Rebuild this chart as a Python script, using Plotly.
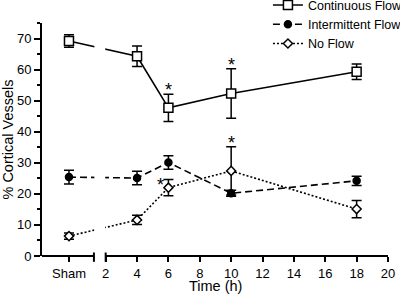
import plotly.graph_objects as go

# ---- data ----
sham_x = -0.34           # position of the "Sham" category on the time axis
times = [4, 6, 10, 18]
cont_flow = [69.2, 64.3, 47.7, 52.3, 59.3]
cont_err = [2.0, 3.3, 4.4, 8.0, 2.5]
inter_flow = [25.4, 25.1, 30.1, 20.2, 24.2]
inter_err = [2.2, 2.2, 2.2, 1.0, 1.5]
no_flow = [6.4, 11.6, 22.0, 27.4, 15.1]
no_err = [1.0, 1.5, 2.6, 7.8, 2.8]
tick_vals = [sham_x, 2, 4, 6, 8, 10, 12, 14, 16, 18, 20]
tick_text = ["Sham", "2", "4", "6", "8", "10", "12", "14", "16", "18", "20"]

x_all = [sham_x] + times
x_min, break_lo, break_hi, x_max = -2.06, 1.25, 2.0, 20.0

fig = go.Figure()

def add(name, y, err, dash, symbol, size, fill):
    fig.add_trace(go.Scatter(
        x=x_all, y=y, name=name, mode="lines+markers",
        line=dict(color="black", width=1.6, dash=dash),
        marker=dict(symbol=symbol, size=size, color=fill,
                    line=dict(color="black", width=1.5)),
        error_y=dict(type="data", array=err, visible=True, color="black",
                     thickness=1.5, width=5),
    ))

add("Continuous Flow", cont_flow, cont_err, "solid", "square", 9, "white")
add("Intermittent Flow", inter_flow, inter_err, "7px,4px", "circle", 7, "black")
add("No Flow", no_flow, no_err, "2px,2px", "diamond", 7, "white")

shapes = []
# white mask hiding the lines across the axis break
shapes.append(dict(type="rect", xref="x", yref="paper", x0=break_lo + 0.03, x1=break_hi - 0.03,
                   y0=0.005, y1=1, fillcolor="white", line=dict(width=0), layer="above"))
# broken x axis line
for a, b in [(x_min, break_lo), (break_hi, x_max)]:
    shapes.append(dict(type="line", xref="x", yref="paper", x0=a, x1=b, y0=0, y1=0,
                       line=dict(color="black", width=2), layer="above"))
for xc in [break_lo, break_hi]:
    shapes.append(dict(type="line", xref="x", yref="paper", x0=xc, x1=xc, y0=-0.025, y1=0.015,
                       line=dict(color="black", width=2), layer="above"))

ann = []
def star(x, y, xs=0, ys=0):
    ann.append(dict(x=x, y=y, xref="x", yref="y", text="*", showarrow=False,
                    xshift=xs, yshift=ys, yanchor="bottom",
                    font=dict(size=18, color="black", family="Liberation Sans, Arial")))
star(x_all[2], cont_flow[2] + cont_err[2], ys=-8)
star(x_all[3], cont_flow[3] + cont_err[3], ys=-8)
star(x_all[3], no_flow[3] + no_err[3], ys=-8)
star(x_all[2], no_flow[2], xs=-8, ys=-9)
# x axis title
ann.append(dict(x=0.5, y=0, xref="paper", yref="paper", text="Time (h)", showarrow=False,
                yanchor="middle", yshift=-30, font=dict(size=14.5, color="black")))

fig.update_layout(
    width=400, height=295,
    margin=dict(l=42, r=12, t=23, b=39, autoexpand=False),
    paper_bgcolor="white", plot_bgcolor="white",
    font=dict(family="Liberation Sans, Arial", size=13, color="black"),
    showlegend=True,
    legend=dict(x=0.653, y=1.14, xanchor="left", yanchor="top",
                font=dict(size=12.5), bgcolor="rgba(0,0,0,0)", tracegroupgap=0),
    shapes=shapes, annotations=ann,
    xaxis=dict(range=[x_min, x_max], tickvals=tick_vals, ticktext=tick_text,
               showline=False, showgrid=False, zeroline=False, automargin=True,
               ticks="outside", ticklen=5, tickwidth=1.8, tickcolor="black",
               tickfont=dict(size=13)),
    yaxis=dict(range=[0, 75], dtick=10, tick0=0, showline=True, linewidth=2, linecolor="black",
               showgrid=False, zeroline=False, automargin=True,
               ticks="outside", ticklen=6, tickwidth=1.8, tickcolor="black",
               tickfont=dict(size=13),
               minor=dict(dtick=5, ticks="outside", ticklen=3, tickwidth=1.5, tickcolor="black"),
               title=dict(text="% Cortical Vessels", font=dict(size=14.5), standoff=3)),
)

fig.write_html("out.html", config={"displayModeBar": False},
               post_script="document.body.style.margin='0';")
